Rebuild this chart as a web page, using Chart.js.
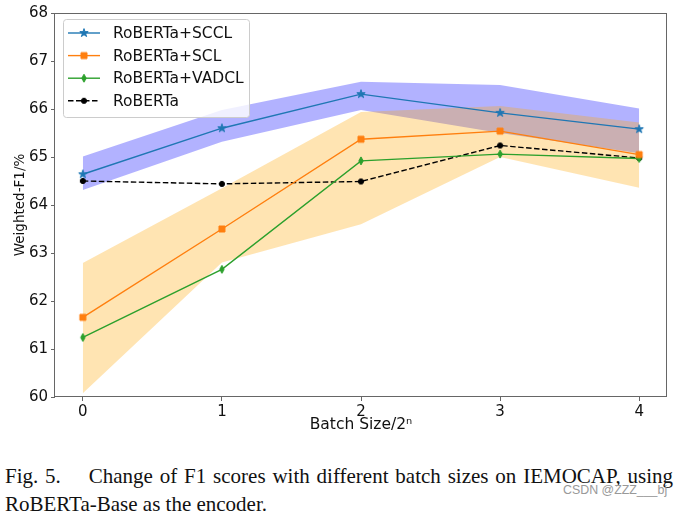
<!DOCTYPE html>
<html>
<head>
<meta charset="utf-8">
<script src="https://cdn.jsdelivr.net/npm/chart.js@4.4.0/dist/chart.umd.min.js"></script>
<style>
  body { margin: 0; background: #fff; width: 684px; height: 514px; position: relative; overflow: hidden; }
  #chart { position: absolute; left: 0; top: 0; }
  .cap {
    position: absolute;
    left: 5px;
    width: 668px;
    font-family: "Liberation Serif", "Times New Roman", serif;
    font-size: 21px;
    line-height: 21px;
    color: #111;
    white-space: nowrap;
  }
  #cap1 { top: 466px; text-align: justify; text-align-last: justify; }
  #cap2 { top: 494px; }
  #mark {
    position: absolute;
    left: 563px;
    top: 483px;
    font-family: "Liberation Sans", Arial, sans-serif;
    font-size: 12.4px;
    color: #999;
    white-space: nowrap;
  }
</style>
</head>
<body>
<canvas id="chart" width="684" height="440"></canvas>
<div class="cap" id="cap1">Fig. 5.&emsp;&nbsp;Change of F1 scores with different batch sizes on IEMOCAP, using</div>
<div class="cap" id="cap2">RoBERTa-Base as the encoder.</div>
<div id="mark">CSDN @ZZZ___bj</div>
<script>
// x = log2(batch size), y = weighted F1 (%)
const batchExp = [0, 1, 2, 3, 4];
const yTicks = [60, 61, 62, 63, 64, 65, 66, 67, 68];

const scclF1 = [64.64, 65.60, 66.31, 65.92, 65.58];
const sclF1 = [61.66, 63.50, 65.37, 65.54, 65.05];
const vadclF1 = [61.24, 62.66, 64.92, 65.06, 64.97];
const robertaF1 = [64.50, 64.44, 64.49, 65.24, 64.98];

// shaded ranges
const scclUpper = [65.01, 65.98, 66.57, 66.50, 66.01];
const scclLower = [64.31, 65.32, 65.98, 65.50, 65.08];
const sclUpper = [62.79, 64.35, 65.94, 66.06, 65.72];
const sclLower = [60.08, 62.80, 63.60, 65.00, 64.36];

const seriesLabels = ["RoBERTa+SCCL", "RoBERTa+SCL", "RoBERTa+VADCL", "RoBERTa"];
const seriesColors = ["#1f77b4", "#ff7f0e", "#2ca02c", "#000000"];

const FONT = "'DejaVu Sans', sans-serif";

const pts = (arr) => batchExp.map((x, i) => ({ x: x, y: arr[i] }));

// small canvases used as point markers (matplotlib-like shapes)
function makeMarker(kind, color) {
  const c = document.createElement("canvas");
  c.width = 12;
  c.height = 12;
  const g = c.getContext("2d");
  g.fillStyle = color;
  g.strokeStyle = color;
  g.lineWidth = 1;
  g.beginPath();
  if (kind === "star") {
    const R = 4.4, r = R * 0.382;
    for (let k = 0; k < 10; k++) {
      const rad = k % 2 === 0 ? R : r;
      const a = -Math.PI / 2 + (k * Math.PI) / 5;
      const px = 6 + rad * Math.cos(a), py = 6 + rad * Math.sin(a);
      k === 0 ? g.moveTo(px, py) : g.lineTo(px, py);
    }
    g.closePath();
  } else if (kind === "square") {
    g.rect(3, 3, 6, 6);
  } else if (kind === "thin_diamond") {
    g.moveTo(6, 2);
    g.lineTo(8.2, 6);
    g.lineTo(6, 10);
    g.lineTo(3.8, 6);
    g.closePath();
  } else {
    g.arc(6, 6, 2.6, 0, Math.PI * 2);
  }
  g.fill();
  g.stroke();
  return c;
}

const markers = [
  makeMarker("star", seriesColors[0]),
  makeMarker("square", seriesColors[1]),
  makeMarker("thin_diamond", seriesColors[2]),
  makeMarker("dot", seriesColors[3]),
];
const dashes = [[], [], [], [5.5, 2.5]];

const lineSets = [scclF1, sclF1, vadclF1, robertaF1].map((arr, i) => ({
  label: seriesLabels[i],
  data: pts(arr),
  borderColor: seriesColors[i],
  backgroundColor: seriesColors[i],
  borderWidth: 1.4,
  borderDash: dashes[i],
  pointStyle: markers[i],
  pointRadius: 4,
  fill: false,
  tension: 0,
}));

const bandSet = (data, color, fill) => ({
  label: "band",
  data: pts(data),
  borderColor: "rgba(0,0,0,0)",
  borderWidth: 0,
  pointRadius: 0,
  backgroundColor: color,
  fill: fill,
  tension: 0,
});

// drawn last-to-first: blue band, then orange band, then the lines
const datasets = [
  ...lineSets,
  bandSet(sclUpper, "rgba(255,165,0,0.3)", "+1"),
  bandSet(sclLower, "rgba(0,0,0,0)", false),
  bandSet(scclUpper, "rgba(0,0,255,0.3)", "+1"),
  bandSet(scclLower, "rgba(0,0,0,0)", false),
];

const framePlugin = {
  id: "frame",
  afterDraw(chart) {
    const { ctx, chartArea: a } = chart;
    ctx.save();
    ctx.strokeStyle = "#666";
    ctx.lineWidth = 1;
    ctx.strokeRect(Math.round(a.left) - 0.5, Math.round(a.top) + 0.5, Math.round(a.right - a.left), Math.round(a.bottom - a.top) - 1);
    ctx.restore();
  },
};

const legendPlugin = {
  id: "boxLegend",
  afterDraw(chart) {
    const ctx = chart.ctx;
    ctx.save();
    ctx.beginPath();
    ctx.roundRect(63.5, 19.5, 186, 98, 3);
    ctx.fillStyle = "rgba(255,255,255,0.8)";
    ctx.fill();
    ctx.strokeStyle = "#cccccc";
    ctx.lineWidth = 1;
    ctx.stroke();
    seriesLabels.forEach((lab, i) => {
      const y = 33 + i * 22.6;
      ctx.beginPath();
      ctx.setLineDash(dashes[i]);
      ctx.strokeStyle = seriesColors[i];
      ctx.lineWidth = 1.4;
      ctx.moveTo(68, y);
      ctx.lineTo(100, y);
      ctx.stroke();
      ctx.setLineDash([]);
      ctx.drawImage(markers[i], 84 - 6, y - 6);
      ctx.fillStyle = "#111";
      ctx.font = "15.5px " + FONT;
      ctx.textBaseline = "middle";
      ctx.fillText(lab, 113, y + 1);
    });
    ctx.restore();
  },
};

new Chart(document.getElementById("chart"), {
  type: "line",
  data: { datasets: datasets },
  options: {
    responsive: false,
    animation: false,
    layout: { padding: { top: 13, right: 17, left: 0, bottom: 0 } },
    plugins: {
      legend: { display: false },
      tooltip: { enabled: false },
    },
    scales: {
      x: {
        type: "linear",
        min: -0.2,
        max: 4.2,
        afterBuildTicks: (s) => {
          s.ticks = batchExp.map((v) => ({ value: v }));
        },
        afterFit: (s) => {
          s.height = 43;
        },
        grid: { drawOnChartArea: false, drawTicks: true, tickLength: 4, tickColor: "#666" },
        border: { display: false },
        ticks: { color: "#111", font: { family: FONT, size: 15 }, padding: 2 },
        title: {
          display: true,
          text: "Batch Size/2\u207F",
          color: "#111",
          font: { family: FONT, size: 15.5 },
          padding: { top: 0, bottom: 6 },
        },
      },
      y: {
        type: "linear",
        min: yTicks[0],
        max: yTicks[yTicks.length - 1],
        afterBuildTicks: (s) => {
          s.ticks = yTicks.map((v) => ({ value: v }));
        },
        afterFit: (s) => {
          s.width = 55;
        },
        grid: { drawOnChartArea: false, drawTicks: true, tickLength: 4, tickColor: "#666" },
        border: { display: false },
        ticks: { color: "#111", font: { family: FONT, size: 15 }, padding: 3 },
        title: {
          display: true,
          text: "Weighted-F1/%",
          color: "#111",
          font: { family: FONT, size: 13.5 },
          padding: { top: 12.4, bottom: 0 },
        },
      },
    },
  },
  plugins: [framePlugin, legendPlugin],
});
</script>
</body>
</html>
